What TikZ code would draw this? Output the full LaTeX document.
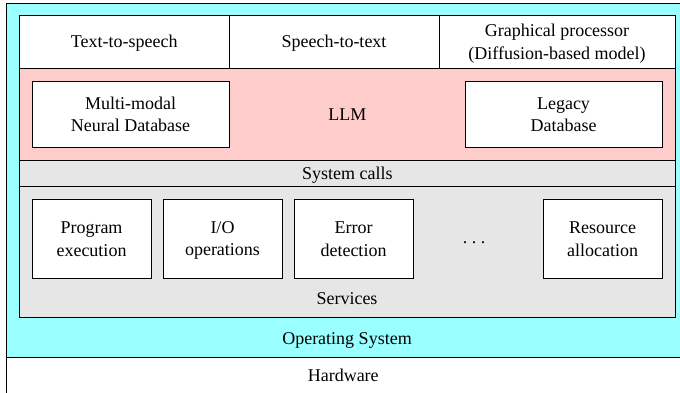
\documentclass[tikz,border=0pt]{standalone}
\usepackage{fontspec}
\setmainfont{Liberation Serif}
\definecolor{oscyan}{HTML}{99FFFF}
\definecolor{llmpink}{HTML}{FFCCCC}
\definecolor{svcgray}{HTML}{E6E6E6}
\newcommand{\ls}{\rule[-3pt]{0pt}{19pt}}
\begin{document}
\begin{tikzpicture}[x=1pt,y=-1pt,
  every node/.style={font=\fontsize{18}{22.5}\selectfont, align=center, inner sep=0pt, outer sep=0pt},
  layer/.style={draw=black, line width=0.9pt, rectangle},
  cell/.style={layer, fill=white},
  lbl/.style={}]
\useasboundingbox (0,0) rectangle (680,393);
% Operating system and hardware
\node[layer, fill=oscyan, minimum width=673.5pt, minimum height=354pt] (os) at (343.25,180) {};
\node[layer, fill=white, minimum width=673.5pt, minimum height=36pt] (hw) at (343.25,375) {\ls Hardware};
\node[lbl] (oslbl) at (347,338) {\ls Operating System};
% top row
\node[cell, minimum width=209.5pt, minimum height=52.5pt] (tts) at (124.25,41.75) {\ls Text-to-speech};
\node[cell, minimum width=210pt, minimum height=52.5pt] (stt) at (334,41.75) {\ls Speech-to-text};
\node[cell, minimum width=236pt, minimum height=52.5pt] (gp) at (557,41.75) {\ls Graphical processor\\\ls (Diffusion-based model)};
% LLM band
\node[layer, fill=llmpink, minimum width=655.5pt, minimum height=92pt] (llm) at (347.25,114) {\ls LLM};
\node[cell, minimum width=197pt, minimum height=66pt] (mmdb) at (130.5,114) {\ls Multi-modal\\\ls Neural Database};
\node[cell, minimum width=197pt, minimum height=66pt] (ldb) at (563.5,114) {\ls Legacy\\\ls Database};
% system calls
\node[layer, fill=svcgray, minimum width=655.5pt, minimum height=26pt] (sys) at (347.25,173) {\ls System calls};
% services
\node[layer, fill=svcgray, minimum width=655.5pt, minimum height=131pt] (svc) at (347.25,251.5) {};
\node[lbl] (svclbl) at (347,298) {\ls Services};
\node[cell, minimum width=119pt, minimum height=79pt] (prog) at (91.5,238.5) {\ls Program\\\ls execution};
\node[cell, minimum width=119pt, minimum height=79pt] (io) at (222.5,238.5) {\ls I/O\\\ls operations};
\node[cell, minimum width=119pt, minimum height=79pt] (err) at (353.5,238.5) {\ls Error\\\ls detection};
\node[lbl, anchor=base] (dots) at (474,243) {.\hspace{4.5pt}.\hspace{4.5pt}.};
\node[cell, minimum width=119pt, minimum height=79pt] (res) at (602.5,238.5) {\ls Resource\\\ls allocation};
\end{tikzpicture}
\end{document}
